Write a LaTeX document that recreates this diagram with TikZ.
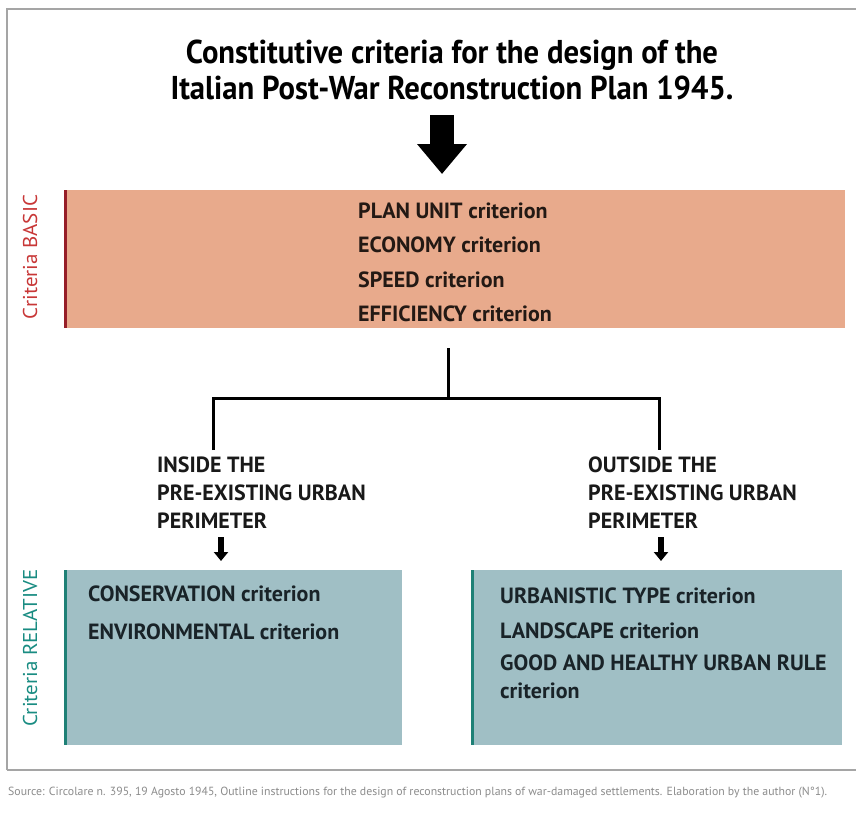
\documentclass[tikz,border=0pt]{standalone}
\usepackage{fontspec}
\setmainfont{PT Sans}
\newfontfamily\titlefont{PT Sans}[FakeStretch=0.93]
\newfontfamily\sidefont{PT Sans}[FakeStretch=1.05]
\usetikzlibrary{arrows.meta}
\definecolor{salmon}{RGB}{232,170,140}
\definecolor{tealbox}{RGB}{160,191,197}
\definecolor{redline}{RGB}{150,30,40}
\definecolor{tealline}{RGB}{30,128,118}
\definecolor{redlabel}{RGB}{200,55,55}
\definecolor{teallabel}{RGB}{25,140,130}
\definecolor{darktext}{RGB}{35,25,20}
\definecolor{darkteal}{RGB}{25,35,40}
\definecolor{framegray}{RGB}{165,165,165}
\tikzset{
  basicbox/.style={fill=salmon, draw=none, inner sep=0, anchor=north west},
  relbox/.style={fill=tealbox, draw=none, inner sep=0, anchor=north west},
  boxtext/.style={anchor=base west, inner sep=0, font=\bfseries\fontsize{22}{22}\selectfont},
  lbltext/.style={anchor=north west, inner sep=0, align=left, font=\bfseries\fontsize{22}{28}\selectfont, text=black!90},
  sidelabel/.style={rotate=90, inner sep=0, font=\sidefont\fontsize{20}{20}\selectfont},
  conn/.style={line width=3pt, black, line join=miter},
  bigarrow/.style={line width=24pt, black, -{Triangle[width=48pt,length=30pt]}},
  smallarrow/.style={line width=6pt, black, -{Triangle[width=14pt,length=9pt]}},
}
\begin{document}
\begin{tikzpicture}[x=1pt,y=-1pt]
\useasboundingbox (0,0) rectangle (856,812);
\clip (0,0) rectangle (856,812);
\fill[white] (0,0) rectangle (856,812);
% frame
\draw[framegray, line width=2.5pt] (7,770) -- (7,9) -- (880,9);
\draw[framegray, line width=2pt] (7,770) -- (880,770);

% title
\node[align=center, inner sep=0, font=\titlefont\bfseries\fontsize{33}{36}\selectfont] (title) at (452,70)
  {Constitutive criteria for the design of the\\Italian Post-War Reconstruction Plan 1945.};

% basic box
\node[basicbox, minimum width=780pt, minimum height=138pt] (basic) at (65,190) {};
\draw[redline, line width=3pt] (basic.north west) -- (basic.south west);
\node[boxtext, text=darktext] (b1) at (358,218) {PLAN UNIT criterion};
\node[boxtext, text=darktext] (b2) at (358,252) {ECONOMY criterion};
\node[boxtext, text=darktext] (b3) at (358,287) {SPEED criterion};
\node[boxtext, text=darktext] (b4) at (358,321) {EFFICIENCY criterion};
\node[sidelabel, text=redlabel] (lbasic) at (30,257) {Criteria BASIC};

% big arrow
\coordinate (a0) at (442,115);
\coordinate (a1) at (442,174);
\draw[bigarrow] (a0) -- (a1);

% tree connector
\coordinate (jt) at (448,348);
\coordinate (jn) at (448,398);
\coordinate (lc) at (213,398);
\coordinate (rc) at (659,398);
\coordinate (lb) at (213,450);
\coordinate (rb) at (659,450);
\draw[conn] (jt) -- (jn);
\draw[conn] (lb) -- (lc) -- (rc) -- (rb);

% labels
\node[lbltext] (inl) at (157,457) {INSIDE THE\\PRE-EXISTING URBAN\\PERIMETER};
\node[lbltext] (outl) at (588,457) {OUTSIDE THE\\PRE-EXISTING URBAN\\PERIMETER};

% small arrows
\coordinate (sl0) at (221,537);
\coordinate (sl1) at (221,561);
\coordinate (sr0) at (661,537);
\coordinate (sr1) at (661,561);
\draw[smallarrow] (sl0) -- (sl1);
\draw[smallarrow] (sr0) -- (sr1);

% relative boxes
\node[relbox, minimum width=337pt, minimum height=175pt] (inbox) at (65,570) {};
\node[relbox, minimum width=370pt, minimum height=175pt] (outbox) at (472,570) {};
\draw[tealline, line width=3pt] (inbox.north west) -- (inbox.south west);
\draw[tealline, line width=3pt] (outbox.north west) -- (outbox.south west);
\node[boxtext, text=darkteal] (c1) at (88,601) {CONSERVATION criterion};
\node[boxtext, text=darkteal] (c2) at (88,639) {ENVIRONMENTAL criterion};
\node[boxtext, text=darkteal] (d1) at (500,603) {URBANISTIC TYPE criterion};
\node[boxtext, text=darkteal] (d2) at (500,638) {LANDSCAPE criterion};
\node[boxtext, text=darkteal] (d3) at (500,670) {GOOD AND HEALTHY URBAN RULE};
\node[boxtext, text=darkteal] (d4) at (500,698) {criterion};
\node[sidelabel, text=teallabel] (lrel) at (30,648) {Criteria RELATIVE};

% caption
\node[anchor=base west, inner sep=0, font=\fontsize{11.8}{12}\selectfont, text=black!45] (cap) at (8,795)
  {Source: Circolare n. 395, 19 Agosto 1945, Outline instructions for the design of reconstruction plans of war-damaged settlements. Elaboration by the author (N°1).};
\end{tikzpicture}
\end{document}
